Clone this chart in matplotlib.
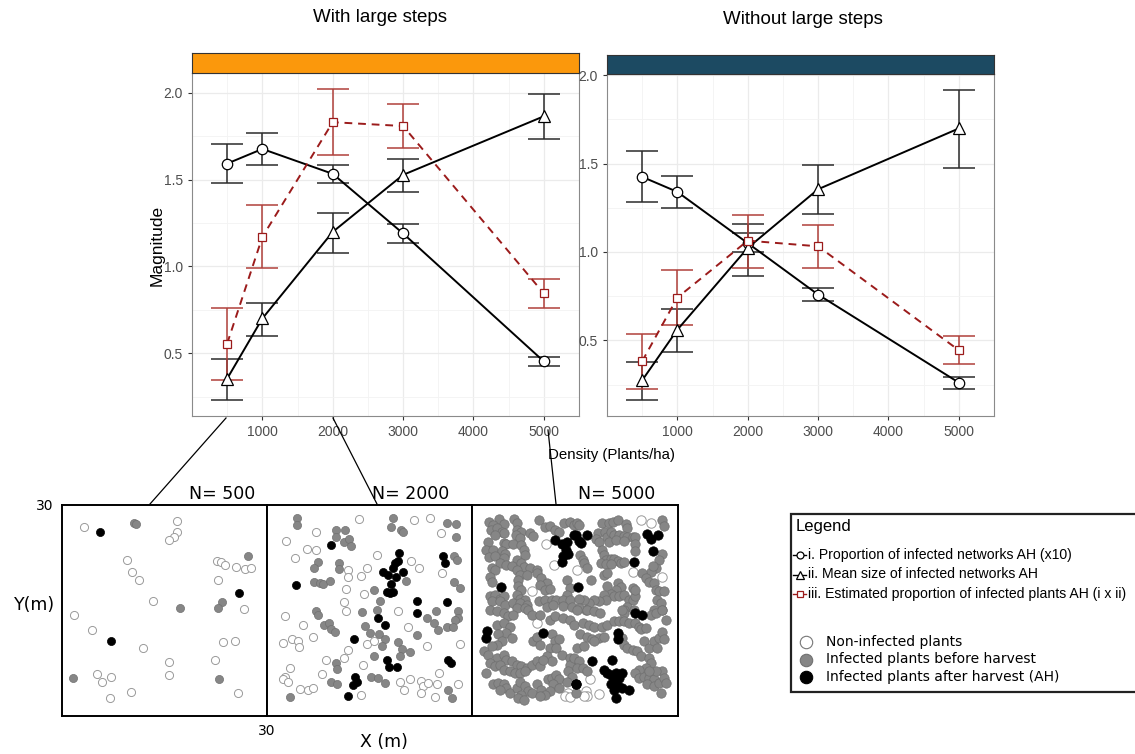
import matplotlib
matplotlib.use("Agg")
import matplotlib.pyplot as plt
from matplotlib.patches import Rectangle

W, H = 1135, 754

# ---------------- data: top panels ----------------
density = [500, 1000, 2000, 3000, 5000]

# With large steps
ls_prop = [1.592, 1.676, 1.533, 1.190, 0.454]
ls_prop_lo = [1.481, 1.584, 1.481, 1.136, 0.425]
ls_prop_hi = [1.703, 1.770, 1.586, 1.243, 0.481]
ls_size = [0.355, 0.701, 1.199, 1.527, 1.864]
ls_size_lo = [0.230, 0.603, 1.080, 1.427, 1.734]
ls_size_hi = [0.467, 0.789, 1.307, 1.617, 1.990]
ls_est = [0.557, 1.170, 1.830, 1.808, 0.845]
ls_est_lo = [0.347, 0.990, 1.640, 1.682, 0.762]
ls_est_hi = [0.762, 1.352, 2.023, 1.937, 0.929]

# Without large steps
ns_prop = [1.425, 1.340, 1.050, 0.759, 0.261]
ns_prop_lo = [1.280, 1.250, 1.000, 0.720, 0.227]
ns_prop_hi = [1.570, 1.430, 1.105, 0.799, 0.293]
ns_size = [0.274, 0.560, 1.023, 1.355, 1.699]
ns_size_lo = [0.160, 0.434, 0.865, 1.216, 1.477]
ns_size_hi = [0.376, 0.677, 1.160, 1.492, 1.919]
ns_est = [0.382, 0.742, 1.064, 1.032, 0.444]
ns_est_lo = [0.227, 0.585, 0.910, 0.912, 0.365]
ns_est_hi = [0.534, 0.900, 1.211, 1.150, 0.523]

panel_titles = ["With large steps", "Without large steps"]
strip_colors = ["#FB980C", "#1C4A62"]
yticks = [0.5, 1.0, 1.5, 2.0]
xticks = [1000, 2000, 3000, 4000, 5000]

legend_lines = ["i. Proportion of infected networks AH (x10)",
                "ii. Mean size of infected networks AH",
                "iii. Estimated proportion of infected plants AH (i x ii)"]
legend_dots = ["Non-infected plants", "Infected plants before harvest",
               "Infected plants after harvest (AH)"]

# ---------------- data: plant maps (x, y in m) ----------------
n500_open = [(3.2, 26.9), (16.9, 27.7), (16.9, 26.2), (16.4, 25.4), (15.7, 25.0), (9.5, 22.2),
             (22.7, 22.1), (23.3, 21.9), (23.8, 21.5), (25.4, 21.2), (26.8, 20.9), (27.6, 21.0),
             (10.3, 20.5), (11.2, 19.4), (22.8, 19.4), (13.3, 16.3), (26.7, 15.2), (1.8, 14.4),
             (4.4, 12.2), (23.6, 10.5), (25.3, 10.6), (11.9, 9.6), (22.4, 7.9), (15.6, 7.7),
             (5.1, 6.0), (5.8, 4.9), (7.2, 5.6), (15.7, 5.8), (10.1, 3.4), (7.0, 2.5), (25.7, 3.3)]
n500_grey = [(10.6, 27.4), (10.8, 27.3), (27.2, 22.7), (23.4, 16.2), (22.8, 15.4), (17.2, 15.3),
             (1.6, 5.4), (23.0, 5.3)]
n500_black = [(5.6, 26.2), (25.9, 17.5), (7.2, 10.7)]

n2000_open = [(13.5, 28.0), (21.5, 27.8), (23.9, 28.1), (25.4, 26.0), (7.1, 26.2), (2.8, 24.9),
              (5.8, 23.8), (7.1, 23.6), (4.1, 22.4), (16.1, 22.9), (21.1, 22.1), (22.3, 21.0),
              (11.9, 20.7), (11.9, 19.7), (14.7, 21.0), (13.7, 19.9), (25.6, 20.4), (11.6, 18.0),
              (14.2, 17.3), (11.2, 16.2),
              (2.6, 14.2), (11.6, 14.9), (19.2, 14.9), (5.3, 12.9), (6.7, 11.3), (2.4, 10.4),
              (3.7, 10.9), (4.5, 10.6), (4.7, 9.8), (14.6, 10.2), (15.6, 10.6), (20.7, 12.7),
              (23.4, 10.0), (28.3, 10.3), (11.9, 9.4), (11.2, 8.3), (8.6, 8.0), (14.0, 7.3),
              (3.4, 6.8), (2.7, 5.6), (2.4, 5.3), (3.1, 4.8), (8.1, 6.0), (4.9, 3.9), (6.0, 3.7),
              (6.7, 4.0), (13.7, 3.0), (19.4, 4.9), (20.9, 5.2), (20.0, 3.7), (22.5, 5.0),
              (22.9, 4.2), (23.6, 4.7), (24.9, 4.6), (25.1, 6.1), (22.6, 3.3), (24.6, 2.7),
              (28.0, 4.5)]
n2000_grey = [(4.4, 28.2), (4.4, 27.2), (18.4, 28.2), (18.2, 26.9), (19.6, 26.5), (19.9, 26.2),
              (26.3, 27.4), (27.7, 27.3), (27.7, 25.4), (10.1, 26.4), (11.4, 26.4), (10.1, 25.5),
              (11.2, 24.7), (12.0, 25.2), (12.3, 24.2), (7.4, 21.9), (6.9, 21.1), (10.6, 21.7),
              (10.5, 20.9), (6.9, 19.0), (7.7, 18.9), (8.2, 18.7), (9.2, 19.2), (20.4, 19.2),
              (27.4, 22.7), (27.8, 22.2), (27.4, 19.0), (28.3, 18.2), (15.7, 17.9), (16.6, 16.4),
              (7.1, 14.9), (7.4, 14.4), (13.9, 14.8), (16.1, 15.1), (24.8, 15.0), (27.9, 14.9),
              (28.0, 14.0), (27.5, 13.6), (23.4, 13.9), (24.5, 13.2), (25.0, 12.2), (26.3, 12.7),
              (27.2, 12.7), (8.3, 13.0), (9.0, 13.2), (9.3, 12.3), (10.0, 11.9), (14.4, 12.8),
              (15.1, 11.8), (16.4, 11.7), (17.2, 11.0), (16.9, 10.0), (19.1, 10.5), (19.8, 9.5),
              (21.0, 9.1), (19.4, 8.5), (21.9, 11.5), (15.7, 8.6), (10.1, 7.6), (10.3, 6.7),
              (15.2, 5.5), (16.3, 5.4), (17.3, 4.7), (9.4, 4.9), (10.3, 4.5), (3.4, 2.7),
              (26.5, 3.7), (27.1, 2.6)]
n2000_black = [(9.3, 24.3), (19.3, 23.2), (19.1, 22.1), (18.7, 21.7), (18.5, 21.1), (17.0, 20.5),
               (17.7, 20.1), (19.9, 20.5), (18.9, 19.7), (18.2, 18.7), (18.4, 17.7), (17.5, 17.6),
               (18.0, 17.5), (25.8, 22.7), (26.0, 21.8), (4.3, 18.6), (22.0, 16.3), (26.4, 16.2),
               (22.0, 14.6), (16.3, 13.9), (17.2, 13.0), (12.7, 11.0), (17.5, 8.0), (17.9, 6.9),
               (19.0, 6.9), (26.5, 8.0), (27.0, 7.5), (12.9, 5.6), (13.2, 4.9), (12.6, 4.4),
               (11.9, 2.9)]

n5000_open = [(10.8, 24.5), (11.9, 21.4), (8.8, 17.8), (24.6, 27.9), (26.0, 27.4), (15.3, 20.7),
              (23.5, 20.5), (27.6, 19.8), (9.4, 13.2), (14.0, 3.3), (13.5, 2.8), (14.3, 2.7),
              (17.2, 5.2), (16.6, 3.5), (16.8, 2.8), (18.5, 3.1), (16.3, 2.8)]
n5000_black = [(12.1, 25.0), (13.1, 24.5), (13.8, 24.8), (13.7, 23.6), (14.0, 23.1), (13.3, 22.7),
               (13.1, 21.9), (14.8, 25.7), (4.2, 18.3), (15.1, 25.7), (15.6, 24.9), (15.9, 24.6),
               (16.8, 25.7), (25.5, 25.9), (26.1, 25.1), (27.1, 25.7), (26.3, 23.4), (23.6, 21.9),
               (15.4, 18.4), (2.2, 12.1), (2.1, 11.1), (10.3, 11.8), (15.1, 4.5), (23.8, 14.6),
               (24.8, 14.4), (21.2, 11.8), (21.2, 10.9), (17.5, 7.8), (20.4, 7.9), (19.2, 6.6),
               (19.7, 6.1), (20.2, 5.9), (20.9, 6.1), (21.9, 6.1), (20.7, 5.2), (21.4, 5.4),
               (20.2, 4.5), (21.2, 4.2), (20.7, 3.7), (21.9, 4.0), (22.9, 3.7), (20.9, 2.6),
               (15.2, 4.5)]
n5000_grey = [
    # upper left
    (2.5, 27.6), (4.0, 28.0), (3.0, 27.2), (4.6, 27.3), (6.1, 28.0), (6.5, 27.4), (9.7, 27.8),
    (10.6, 26.9), (11.4, 27.0), (12.1, 26.4), (12.7, 26.2), (13.4, 27.4), (14.3, 27.6),
    (14.9, 27.2), (2.7, 26.4), (3.6, 26.7), (4.3, 26.2), (4.7, 26.0), (3.3, 25.7), (6.5, 26.5),
    (7.2, 26.2), (8.4, 26.0), (8.9, 25.6), (6.4, 25.7), (7.0, 25.3), (2.4, 24.8), (4.6, 24.6),
    (5.0, 24.5), (6.0, 24.5), (7.2, 24.3), (2.1, 23.6), (3.1, 23.6), (4.3, 23.5), (4.8, 23.1),
    (7.5, 23.6), (7.7, 22.9), (2.5, 22.6), (3.3, 22.7), (4.6, 22.4), (6.5, 22.2), (7.2, 21.7),
    (4.1, 21.7), (5.0, 21.5), (5.8, 21.3), (7.5, 21.2), (8.4, 21.0), (9.4, 20.8), (2.9, 21.0),
    (3.3, 20.7), (6.5, 20.8), (2.6, 19.7), (7.0, 20.0), (8.0, 20.0), (9.4, 20.3), (10.1, 19.6),
    (10.9, 18.9), (2.9, 19.1), (6.7, 19.3), (6.7, 18.5), (7.2, 17.9), (9.9, 18.6), (10.6, 17.9),
    (11.4, 18.0), (13.8, 19.3), (14.3, 18.2), (13.8, 17.2), (2.6, 17.0), (3.3, 17.2),
    (4.1, 16.7), (4.6, 17.0), (2.9, 16.3), (4.1, 16.3), (4.8, 15.8), (6.5, 17.2), (7.0, 16.7),
    (7.7, 16.5), (6.0, 16.0), (7.0, 16.0), (8.0, 15.8), (9.7, 16.3), (10.6, 16.5), (11.6, 16.5),
    (12.3, 16.5), (13.3, 16.5), (14.3, 16.5), (10.9, 15.5), (11.8, 15.8), (13.3, 15.6),
    (14.5, 15.5), (6.5, 15.3), (7.7, 15.3),
    # upper right
    (15.3, 27.4), (15.6, 27.2), (19.0, 27.5), (19.9, 27.4), (20.6, 27.6), (21.2, 27.8),
    (22.4, 27.3), (22.6, 26.7), (27.7, 27.9), (27.9, 27.0), (18.3, 26.0), (19.3, 26.1),
    (19.7, 25.5), (20.2, 26.1), (20.7, 25.7), (21.4, 25.7), (22.1, 25.6), (22.6, 25.5),
    (23.4, 25.5), (23.8, 25.4), (18.0, 25.1), (18.5, 24.8), (19.9, 24.8), (20.9, 25.0),
    (22.1, 24.9), (15.7, 22.9), (16.1, 22.2), (16.3, 21.7), (16.7, 21.0), (19.0, 23.6),
    (19.2, 22.9), (19.5, 22.2), (20.2, 22.3), (20.7, 22.3), (21.2, 22.1), (21.7, 21.8),
    (22.1, 21.9), (23.7, 24.5), (23.8, 23.4), (18.8, 21.7), (19.5, 21.6), (20.2, 21.6),
    (27.7, 23.1), (27.2, 22.2), (26.8, 21.0), (26.0, 20.5), (26.4, 21.3), (17.3, 19.3),
    (19.2, 20.0), (19.7, 20.3), (24.8, 20.3), (25.3, 19.6), (25.8, 19.1), (26.5, 18.9),
    (26.8, 17.9), (27.2, 17.8), (28.0, 17.8), (27.0, 16.5), (27.5, 16.0), (19.7, 18.5),
    (21.2, 18.9), (21.7, 18.4), (20.9, 17.9), (20.2, 17.4), (20.7, 17.0), (21.4, 17.0),
    (22.1, 17.2), (22.9, 16.5), (23.4, 16.5), (22.6, 15.5), (23.8, 17.0), (23.4, 18.2),
    (23.8, 17.9), (19.2, 17.2), (19.5, 16.5), (18.5, 16.3), (17.8, 16.5), (17.0, 16.0),
    (16.3, 16.5), (15.6, 16.7), (16.6, 15.1), (15.6, 15.3), (22.1, 15.1), (23.6, 15.1),
    (26.5, 15.1), (27.7, 15.1),
    # lower left
    (2.6, 15.1), (3.6, 14.9), (4.6, 14.6), (5.3, 14.2), (6.0, 14.4), (8.2, 15.1), (8.7, 14.4),
    (9.9, 14.4), (11.4, 13.7), (12.1, 14.2), (13.3, 13.9), (14.3, 13.7), (14.8, 13.0),
    (3.6, 13.0), (4.6, 13.2), (5.5, 12.7), (5.0, 11.8), (3.8, 11.6), (5.8, 11.1), (4.3, 10.6),
    (3.6, 10.1), (2.9, 9.9), (8.9, 10.6), (9.4, 11.3), (9.9, 10.1), (11.6, 11.6), (12.1, 10.6),
    (12.6, 10.9), (11.4, 9.7), (12.3, 9.7), (13.1, 8.7), (14.3, 8.2), (14.8, 7.8), (10.9, 8.5),
    (11.6, 7.8), (1.7, 9.2), (2.4, 8.7), (3.6, 8.2), (4.6, 8.7), (5.0, 8.0), (5.8, 7.8),
    (6.5, 7.3), (7.2, 7.1), (8.0, 6.8), (8.7, 7.3), (9.4, 7.8), (9.9, 7.1), (10.4, 8.0),
    (2.6, 7.5), (3.3, 7.1), (4.1, 7.3), (4.6, 6.6), (5.5, 6.4), (6.3, 6.1), (7.0, 6.1),
    (7.7, 6.4), (2.1, 6.1), (3.1, 4.5), (3.8, 4.7), (4.6, 4.5), (5.0, 4.0), (4.1, 3.7),
    (5.5, 3.3), (6.5, 4.0), (7.0, 4.9), (7.7, 4.2), (8.2, 3.5), (7.2, 3.0), (6.7, 2.6),
    (7.5, 2.3), (8.7, 3.3), (9.4, 4.5), (10.1, 3.7), (11.1, 5.2), (11.6, 5.4), (12.3, 5.9),
    (12.6, 5.2), (11.8, 4.5), (11.4, 3.5), (10.6, 3.0), (9.9, 2.8), (12.6, 4.0), (14.3, 7.3),
    (14.0, 6.4), (14.5, 5.6), (13.8, 4.9),
    # lower right
    (15.3, 15.1), (16.8, 15.1), (17.8, 14.9), (18.7, 14.6), (22.1, 14.6), (21.9, 15.1),
    (26.0, 14.4), (26.8, 14.6), (27.7, 15.1), (28.2, 13.7), (16.1, 13.2), (17.0, 13.0),
    (17.8, 12.7), (19.0, 12.7), (19.7, 13.0), (20.7, 13.5), (21.4, 13.5), (22.1, 13.5),
    (22.9, 13.2), (23.8, 13.2), (24.3, 12.7), (24.6, 12.3), (25.3, 12.5), (15.8, 11.6),
    (16.8, 11.3), (17.5, 10.9), (18.5, 11.1), (19.2, 11.3), (17.8, 10.6), (15.3, 9.7),
    (16.3, 9.9), (14.9, 8.2), (21.9, 11.1), (22.1, 10.1), (22.6, 9.7), (23.4, 9.4), (24.1, 9.2),
    (25.1, 10.6), (25.8, 9.7), (26.5, 10.6), (27.2, 11.1), (27.7, 12.0), (28.0, 10.9),
    (27.0, 9.7), (24.6, 8.5), (25.8, 8.2), (26.0, 7.5), (25.3, 6.8), (24.3, 6.6), (23.8, 6.1),
    (24.3, 5.4), (25.1, 5.6), (25.8, 5.4), (26.5, 5.2), (25.5, 4.5), (26.5, 4.2), (27.2, 4.7),
    (27.7, 6.4), (28.0, 5.4), (28.2, 4.7), (26.8, 6.4), (25.8, 6.4), (27.5, 3.3), (15.6, 7.8),
    (15.3, 6.8), (16.1, 6.8), (16.8, 6.4), (15.1, 3.3)]

maps = [("N= 500", n500_open, n500_grey, n500_black),
        ("N= 2000", n2000_open, n2000_grey, n2000_black),
        ("N= 5000", n5000_open, n5000_grey, n5000_black)]

# ---------------- figure ----------------
fig = plt.figure(figsize=(W / 100, H / 100), dpi=100)
top_font = "Liberation Sans"


def px_box(x0, y0, x1, y1):
    return [x0 / W, 1 - y1 / H, (x1 - x0) / W, (y1 - y0) / H]


def draw_panel(ax, series, ylim):
    ax.set_xlim(0, 5500)
    ax.set_ylim(*ylim)
    ax.set_xticks(xticks)
    ax.set_xticks([500, 1500, 2500, 3500, 4500], minor=True)
    ax.set_yticks(yticks)
    ax.set_yticks([0.25, 0.75, 1.25, 1.75], minor=True)
    ax.set_yticklabels(["%.1f" % v for v in yticks])
    ax.grid(which="major", color="#EBEBEB", lw=0.9)
    ax.grid(which="minor", color="#F3F3F3", lw=0.6)
    ax.set_axisbelow(True)
    ax.tick_params(which="major", length=3, color="#333333", labelcolor="#4D4D4D", labelsize=10)
    ax.tick_params(which="minor", length=0)
    for lab in ax.get_xticklabels() + ax.get_yticklabels():
        lab.set_fontfamily(top_font)
    for sp in ax.spines.values():
        sp.set_color("#8A8A8A")
        sp.set_linewidth(0.8)
    for y, lo, hi, marker, ms, lcol, ecol, ls in series:
        err = [[a - b for a, b in zip(y, lo)], [b - a for a, b in zip(y, hi)]]
        ax.errorbar(density, y, yerr=err, fmt="none", ecolor=ecol, elinewidth=1.1,
                    capsize=11.5, capthick=1.1, zorder=2)
        ax.plot(density, y, color=lcol, ls=ls, lw=1.4, marker=marker, ms=ms,
                mfc="white", mec=lcol, mew=0.9, zorder=3)


panels = [
    ([(ls_prop, ls_prop_lo, ls_prop_hi, "o", 7.5, "black", "#2B2B2B", "-"),
      (ls_size, ls_size_lo, ls_size_hi, "^", 9, "black", "#2B2B2B", "-"),
      (ls_est, ls_est_lo, ls_est_hi, "s", 5.5, "#9B1B1B", "#B0403A", (0, (4, 3)))],
     (0.14, 2.113), (192, 73, 579, 416), (192, 53, 579, 73)),
    ([(ns_prop, ns_prop_lo, ns_prop_hi, "o", 7.5, "black", "#2B2B2B", "-"),
      (ns_size, ns_size_lo, ns_size_hi, "^", 9, "black", "#2B2B2B", "-"),
      (ns_est, ns_est_lo, ns_est_hi, "s", 5.5, "#9B1B1B", "#B0403A", (0, (4, 3)))],
     (0.072, 2.007), (607, 74, 994, 416), (607, 55, 994, 74)),
]

for i, (series, ylim, box, sbox) in enumerate(panels):
    ax = fig.add_axes(px_box(*box))
    draw_panel(ax, series, ylim)
    sax = fig.add_axes(px_box(*sbox))
    sax.set_facecolor(strip_colors[i])
    sax.set_xticks([])
    sax.set_yticks([])
    for sp in sax.spines.values():
        sp.set_color("#333333")
        sp.set_linewidth(0.8)

# plant maps
map_boxes = [(62, 505, 267, 716), (267, 505, 472, 716), (472, 505, 678, 716)]
for i, (label, opn, gry, blk) in enumerate(maps):
    m = fig.add_axes(px_box(*map_boxes[i]))
    m.set_xlim(0, 30)
    m.set_ylim(0, 30)
    s = 34 if i < 2 else 46
    m.scatter([p[0] for p in opn], [p[1] for p in opn], s=s, facecolor="white",
              edgecolor="#9A9A9A", linewidth=0.7, zorder=2)
    m.scatter([p[0] for p in gry], [p[1] for p in gry], s=s, facecolor="#868686",
              edgecolor="#707070", linewidth=0.5, zorder=3)
    m.scatter([p[0] for p in blk], [p[1] for p in blk], s=s, facecolor="black",
              edgecolor="black", linewidth=0.5, zorder=4)
    m.set_xticks([30] if i == 0 else [])
    m.set_yticks([30] if i == 0 else [])
    m.tick_params(length=0, labelsize=10, pad=6)
    for sp in m.spines.values():
        sp.set_linewidth(1.4)
        sp.set_color("black")
    m.set_title(label, fontsize=12.5, pad=4, x=0.78 if i == 0 else 0.7)

# overlay in pixel coordinates
ov = fig.add_axes([0, 0, 1, 1])
ov.set_xlim(0, W)
ov.set_ylim(H, 0)
ov.axis("off")
ov.patch.set_visible(False)

ov.text(380, 18, panel_titles[0], ha="center", va="center", fontsize=13.5, family=top_font)
ov.text(803, 20, panel_titles[1], ha="center", va="center", fontsize=13.5, family=top_font)
ov.text(157, 245, "Magnitude", ha="center", va="center", rotation=90, fontsize=12.5,
        family=top_font)
ov.text(611, 455, "Density (Plants/ha)", ha="center", va="center", fontsize=10.8,
        family=top_font)

# connectors from density to maps
for (x0, y0), (x1, y1) in [((226, 418), (150, 504)), ((333, 418), (377, 504)),
                           ((548, 430), (556, 504))]:
    ov.plot([x0, x1], [y0, y1], color="black", lw=0.9)

ov.text(35, 605, "Y(m)", ha="center", va="center", fontsize=12.5)
ov.text(384, 742, "X (m)", ha="center", va="center", fontsize=12.5)

# legend box
ov.add_patch(Rectangle((791, 514), 360, 178, facecolor="white", edgecolor="#222222", lw=1.6))
ov.text(796, 527, "Legend", ha="left", va="center", fontsize=12, family=top_font)
line_styles = [("o", 5, "black"), ("^", 6, "black"), ("s", 4.5, "#9B1B1B")]
for k, (txt, (mk, ms, col)) in enumerate(zip(legend_lines, line_styles)):
    y = 555 + k * 19.5
    ov.plot([793, 806], [y, y], color=col, lw=1.0)
    ov.plot([799.5], [y], marker=mk, ms=ms, mfc="white", mec=col, mew=0.9, color=col)
    ov.text(808, y, txt, ha="left", va="center", fontsize=10.1, family=top_font)
dot_styles = [("white", "#777777"), ("#868686", "#707070"), ("black", "black")]
for k, (txt, (fc, ec)) in enumerate(zip(legend_dots, dot_styles)):
    y = 642 + k * 17.5
    ov.scatter([806], [y], s=80, facecolor=fc, edgecolor=ec, linewidth=0.8)
    ov.text(826, y, txt, ha="left", va="center", fontsize=10)

fig.savefig("out.png", dpi=100)
